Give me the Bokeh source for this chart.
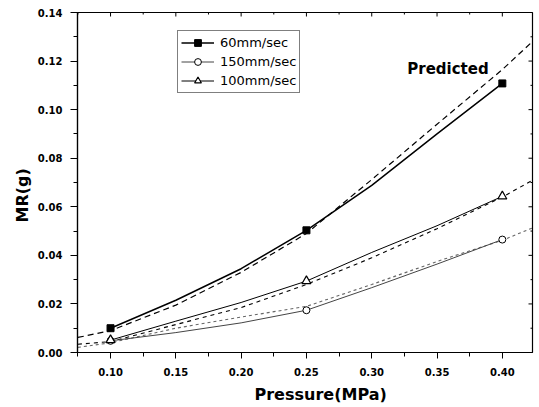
import math
from bokeh.plotting import figure
from bokeh.models import FixedTicker, PrintfTickFormatter, Legend, LegendItem, Label, Range1d, Title
from bokeh.embed import file_html
from bokeh.resources import INLINE

# measured points (markers)
pts_pressure = [0.10, 0.25, 0.40]
pts_60 = [0.0100, 0.0503, 0.1108]
pts_150 = [0.0048, 0.0174, 0.0465]
pts_100 = [0.0051, 0.0294, 0.0643]

curve_pressure = [0.10, 0.15, 0.20, 0.25, 0.30, 0.35, 0.40]
curve_60 = [0.0100, 0.0215, 0.0345, 0.0503, 0.0688, 0.0900, 0.1108]
curve_150 = [0.0048, 0.0082, 0.0122, 0.0174, 0.0267, 0.0364, 0.0465]
curve_100 = [0.0051, 0.0129, 0.0206, 0.0294, 0.0412, 0.0522, 0.0643]

# predicted curves (dashed)
pred_pressure = [0.075, 0.10, 0.15, 0.20, 0.25, 0.30, 0.35, 0.40, 0.424]
pred_60 = [0.0062, 0.0090, 0.0195, 0.0330, 0.0490, 0.0712, 0.0940, 0.1165, 0.1285]
pred_100 = [0.0034, 0.0045, 0.0115, 0.0185, 0.0280, 0.0390, 0.0510, 0.0640, 0.0712]
pred_150 = [0.0021, 0.0040, 0.0100, 0.0146, 0.0190, 0.0280, 0.0375, 0.0462, 0.0515]

x_ticks = [0.10, 0.15, 0.20, 0.25, 0.30, 0.35, 0.40]
x_minor = [0.075, 0.125, 0.175, 0.225, 0.275, 0.325, 0.375, 0.425]
y_ticks = [0.00, 0.02, 0.04, 0.06, 0.08, 0.10, 0.12, 0.14]
y_minor = [0.01, 0.03, 0.05, 0.07, 0.09, 0.11, 0.13]

labels = ["60mm/sec", "150mm/sec", "100mm/sec"]
x_title = "Pressure(MPa)"
y_title = "MR(g)"

X_LO, X_HI = 0.0747, 0.4231
Y_LO, Y_HI = 0.0, 0.14

FONT = "DejaVu Sans"

p = figure(width=539, height=407, output_backend="svg", toolbar_location=None,
           x_range=Range1d(X_LO, X_HI), y_range=Range1d(Y_LO, Y_HI),
           min_border_left=77, min_border_right=7, min_border_top=12,
           min_border_bottom=55)
p.grid.visible = False
p.outline_line_color = "black"
p.outline_line_width = 1.2
p.background_fill_color = "white"

xa = p.xaxis[0]
xa.ticker = FixedTicker(ticks=x_ticks, minor_ticks=x_minor)
xa.formatter = PrintfTickFormatter(format="%.2f")
ya = p.yaxis[0]
ya.ticker = FixedTicker(ticks=y_ticks, minor_ticks=y_minor)
ya.formatter = PrintfTickFormatter(format="%.2f")

for ax in (xa, ya):
    ax.axis_line_color = "black"
    ax.axis_line_width = 1.2
    ax.major_tick_line_color = "black"
    ax.minor_tick_line_color = "black"
    ax.major_tick_in = 0
    ax.minor_tick_in = 0
    ax.major_label_text_font = FONT
    ax.major_label_text_font_style = "bold"
    ax.major_label_text_font_size = "10px"
    ax.major_label_text_color = "black"

xa.major_tick_out = 6
xa.minor_tick_out = 4
xa.major_label_standoff = 9
ya.major_tick_out = 7
ya.minor_tick_out = 4
ya.major_label_standoff = 8

# axis titles, slightly off-centre as in the reference
xt = Title(text=x_title, align="left", offset=177, standoff=8,
           text_font=FONT, text_font_style="bold", text_font_size="16px",
           text_color="black")
yt = Title(text=y_title, align="left", offset=130, standoff=5,
           text_font=FONT, text_font_style="bold", text_font_size="16px",
           text_color="black")
p.add_layout(xt, "below")
p.add_layout(yt, "left")

# inward ticks on the top and right frame edges
p.ray(x=x_ticks, y=[Y_HI] * len(x_ticks), length=4, length_units="screen",
      angle=-math.pi / 2, line_color="black", line_width=1)
p.ray(x=x_minor, y=[Y_HI] * len(x_minor), length=2, length_units="screen",
      angle=-math.pi / 2, line_color="black", line_width=1)
p.ray(x=[X_HI] * len(y_ticks), y=y_ticks, length=4, length_units="screen",
      angle=math.pi, line_color="black", line_width=1)
p.ray(x=[X_HI] * len(y_minor), y=y_minor, length=2, length_units="screen",
      angle=math.pi, line_color="black", line_width=1)

# predicted dashed lines
p.line(pred_pressure, pred_60, line_color="black", line_width=1.2, line_dash="6 4")
p.line(pred_pressure, pred_100, line_color="black", line_width=1.1, line_dash="4 4")
p.line(pred_pressure, pred_150, line_color="#666666", line_width=1.1, line_dash="3 3")

# measured
l60 = p.line(curve_pressure, curve_60, line_color="black", line_width=1.5)
s60 = p.scatter(pts_pressure, pts_60, marker="square", size=7,
                fill_color="black", line_color="black")
l150 = p.line(curve_pressure, curve_150, line_color="#444444", line_width=1)
s150 = p.scatter(pts_pressure, pts_150, marker="circle", size=7,
                 fill_color="white", line_color="black", line_width=1)
l100 = p.line(curve_pressure, curve_100, line_color="black", line_width=1)
s100 = p.scatter(pts_pressure, pts_100, marker="triangle", size=9,
                 fill_color="white", line_color="black", line_width=1.2)

legend = Legend(items=[
    LegendItem(label=labels[0], renderers=[l60, s60]),
    LegendItem(label=labels[1], renderers=[l150, s150]),
    LegendItem(label=labels[2], renderers=[l100, s100]),
], location=(100, 259))
legend.border_line_color = "black"
legend.border_line_width = 1
legend.background_fill_color = "white"
legend.background_fill_alpha = 1
legend.label_text_font = FONT
legend.label_text_font_size = "13px"
legend.label_text_color = "black"
legend.glyph_width = 33
legend.glyph_height = 17
legend.label_height = 17
legend.label_standoff = 6
legend.spacing = 2
legend.padding = 3
legend.margin = 0
p.add_layout(legend, "center")

p.add_layout(Label(x=0.3272, y=0.1168, text="Predicted", text_font=FONT,
                   text_font_style="bold", text_font_size="15px",
                   text_color="black", text_baseline="alphabetic"))

open("out.html", "w").write(file_html(p, INLINE))
